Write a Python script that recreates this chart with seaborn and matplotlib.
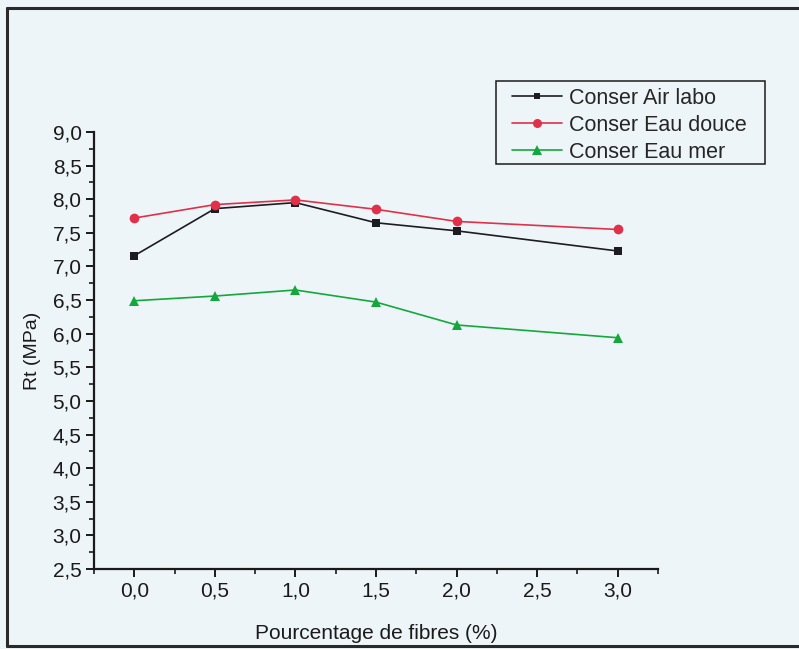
import numpy as np
import pandas as pd
import matplotlib
matplotlib.use("Agg")
import matplotlib.pyplot as plt
from matplotlib.lines import Line2D
from matplotlib.patches import Rectangle
from matplotlib.ticker import FixedLocator, MultipleLocator, FixedFormatter
import seaborn as sns

# Data
fibres = [0.0, 0.5, 1.0, 1.5, 2.0, 3.0]
air_labo = [7.16, 7.86, 7.95, 7.65, 7.53, 7.23]
eau_douce = [7.72, 7.92, 7.99, 7.85, 7.67, 7.55]
eau_mer = [6.49, 6.56, 6.65, 6.47, 6.13, 5.94]
series_names = ["Conser Air labo", "Conser Eau douce", "Conser Eau mer"]

x_ticks = [0.0, 0.5, 1.0, 1.5, 2.0, 2.5, 3.0]
x_tick_labels = ["0,0", "0,5", "1,0", "1,5", "2,0", "2,5", "3,0"]
y_ticks = [2.5, 3.0, 3.5, 4.0, 4.5, 5.0, 5.5, 6.0, 6.5, 7.0, 7.5, 8.0, 8.5, 9.0]
y_tick_labels = ["2,5", "3,0", "3,5", "4,0", "4,5", "5,0", "5,5", "6,0",
                 "6,5", "7,0", "7,5", "8,0", "8,5", "9,0"]

bg = "#eef5f9"
sns.set_style("ticks")
plt.rcParams["font.family"] = ["Liberation Sans", "DejaVu Sans"]

fig = plt.figure(figsize=(7.99, 6.49), dpi=100, facecolor=bg)
W, H = 799, 649
ax = fig.add_axes([94 / W, 1 - 569 / H, (658 - 94) / W, (569 - 132) / H])
ax.set_facecolor(bg)

styles = [
    (air_labo, "#1c1c22", "s", 6.0, 5.0),
    (eau_douce, "#e0304a", "o", 7.0, 6.5),
    (eau_mer, "#14a83c", "^", 7.5, 7.0),
]
for (vals, col, mk, ms, _), name in zip(styles, series_names):
    sns.lineplot(x=fibres, y=vals, ax=ax, color=col, marker=mk, markersize=ms,
                 markeredgewidth=0, linewidth=1.2, label=name)

ax.set_xlim(-0.25, 3.25)
ax.set_ylim(2.5, 9.0)
ax.xaxis.set_major_locator(FixedLocator(x_ticks))
ax.xaxis.set_major_formatter(FixedFormatter(x_tick_labels))
ax.xaxis.set_minor_locator(MultipleLocator(0.25))
ax.yaxis.set_major_locator(FixedLocator(y_ticks))
ax.yaxis.set_major_formatter(FixedFormatter(y_tick_labels))
ax.yaxis.set_minor_locator(MultipleLocator(0.25))

sns.despine(ax=ax)
for s in ["left", "bottom"]:
    ax.spines[s].set_linewidth(1.6)
    ax.spines[s].set_color("#1a1a1a")
ax.tick_params(which="major", direction="out", length=6, width=1.4,
               labelsize=15, colors="#1a1a1a", pad=3)
ax.tick_params(which="minor", direction="out", length=3.5, width=1.2, colors="#1a1a1a")

ax.set_xlabel("Pourcentage de fibres (%)", fontsize=15, color="#1a1a1a", labelpad=17)
ax.set_ylabel("Rt (MPa)", fontsize=14, color="#1a1a1a", labelpad=8)

# legend without its own frame; the box is drawn separately
leg = ax.legend(loc="upper left", bbox_to_anchor=(512 / W, 1 - 88 / H),
                bbox_transform=fig.transFigure, borderaxespad=0, fontsize=15.5,
                frameon=False, handlelength=2.3, handletextpad=0.35,
                labelspacing=0.27, borderpad=0)
for h, st in zip(leg.legend_handles, styles):
    h.set_markersize(st[4])
fig.add_artist(Rectangle((496 / W, 1 - 164 / H), (765 - 496) / W, (164 - 81) / H,
                         transform=fig.transFigure, fill=False,
                         edgecolor="#1a1a1a", linewidth=1.1))

# outer frame of the scanned figure
for xs, ys in [([7 / W, 1.0], [1 - 8 / H, 1 - 8 / H]),
               ([7 / W, 7 / W], [1 - 8 / H, 1 - 646 / H]),
               ([7 / W, 1.0], [1 - 646 / H, 1 - 646 / H])]:
    fig.add_artist(Line2D(xs, ys, transform=fig.transFigure, color="#2a2a2a", linewidth=2.2))

fig.savefig("out.png", dpi=100, facecolor=bg)
